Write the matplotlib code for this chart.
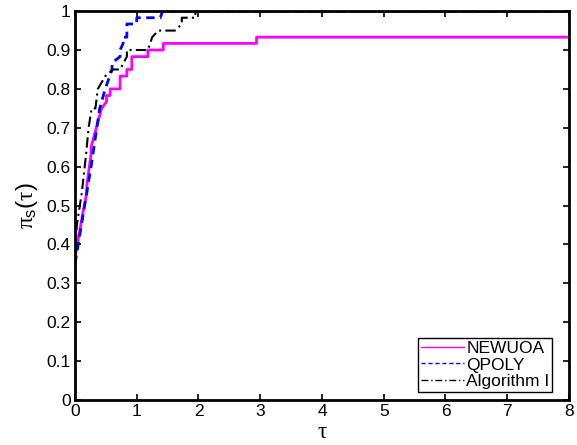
import matplotlib
matplotlib.use("Agg")
import matplotlib.pyplot as plt

plt.rcParams["font.family"] = ["Liberation Sans", "DejaVu Sans"]
plt.rcParams["mathtext.fontset"] = "custom"
plt.rcParams["mathtext.rm"] = "Liberation Sans"
plt.rcParams["mathtext.it"] = "Liberation Serif"

# performance profile vertices (tau, fraction of problems solved)
newuoa_tau = [0, 0.13, 0.19, 0.19, 0.26, 0.26, 0.43, 0.51, 0.51, 0.57, 0.57, 0.73,
              0.73, 0.84, 0.84, 0.92, 0.92, 1.18, 1.18, 1.43, 1.43, 2.94, 2.94, 8.0]
newuoa_pi = [0.367, 0.483, 0.533, 0.55, 0.633, 0.65, 0.75, 0.767, 0.783, 0.783,
             0.80, 0.80, 0.833, 0.833, 0.85, 0.85, 0.883, 0.883, 0.90, 0.90, 0.917,
             0.917, 0.933, 0.933]

qpoly_tau = [0, 0.26, 0.40, 0.49, 0.60, 0.60, 0.73, 0.73, 0.78, 0.78, 0.84, 0.84,
             1.00, 1.00, 1.38, 1.42, 8.0]
qpoly_pi = [0.35, 0.60, 0.75, 0.80, 0.85, 0.867, 0.883, 0.90, 0.917, 0.933, 0.933,
            0.967, 0.967, 0.983, 0.983, 1.0, 1.0]

alg_tau = [0, 0.03, 0.11, 0.18, 0.22, 0.27, 0.33, 0.37, 0.49, 0.62, 0.73, 0.84,
           0.84, 1.18, 1.25, 1.35, 1.62, 1.73, 1.73, 1.95, 1.95, 8.0]
alg_pi = [0.383, 0.45, 0.533, 0.633, 0.70, 0.75, 0.75, 0.80, 0.833, 0.85, 0.85, 0.883,
          0.90, 0.90, 0.933, 0.95, 0.95, 0.967, 0.983, 0.983, 1.0, 1.0]

fig = plt.figure(figsize=(5.77, 4.45), dpi=100)
ax = fig.add_axes([0.130, 0.101, 0.856, 0.874])

ax.plot(newuoa_tau, newuoa_pi, color="#ff00ff", lw=2.0, label="NEWUOA")
ax.plot(qpoly_tau, qpoly_pi, color="#0000ff", lw=2.0, ls=(0, (3, 2)),
        label="QPOLY")
ax.plot(alg_tau, alg_pi, color="black", lw=1.5, ls=(0, (5, 2, 1, 2)),
        label="Algorithm I")

ax.set_xlim(0, 8)
ax.set_ylim(0, 1)
ax.set_xticks(range(0, 9))
ax.set_yticks([i / 10 for i in range(11)])
ax.set_yticklabels(["0", "0.1", "0.2", "0.3", "0.4", "0.5", "0.6", "0.7", "0.8", "0.9", "1"])
ax.tick_params(direction="in", top=True, right=True, length=4, width=1.2,
               labelsize=12.5, pad=3)
for s in ax.spines.values():
    s.set_linewidth(2)

ax.set_xlabel(r"$\tau$", fontsize=17, labelpad=1)
ax.set_ylabel(r"$\pi_\mathrm{s}(\tau)$", fontsize=17, labelpad=5)

leg = ax.legend(loc="lower right", bbox_to_anchor=(552 / 577, 53 / 445),
                bbox_transform=fig.transFigure, borderaxespad=0,
                fontsize=12.5, fancybox=False, framealpha=1,
                edgecolor="black", handlelength=2.5, borderpad=0.15,
                labelspacing=0.1, handletextpad=0.1)
leg.get_frame().set_linewidth(1.0)
for h in leg.get_lines():
    h.set_linewidth(1.0)

fig.savefig("out.png", dpi=100)
